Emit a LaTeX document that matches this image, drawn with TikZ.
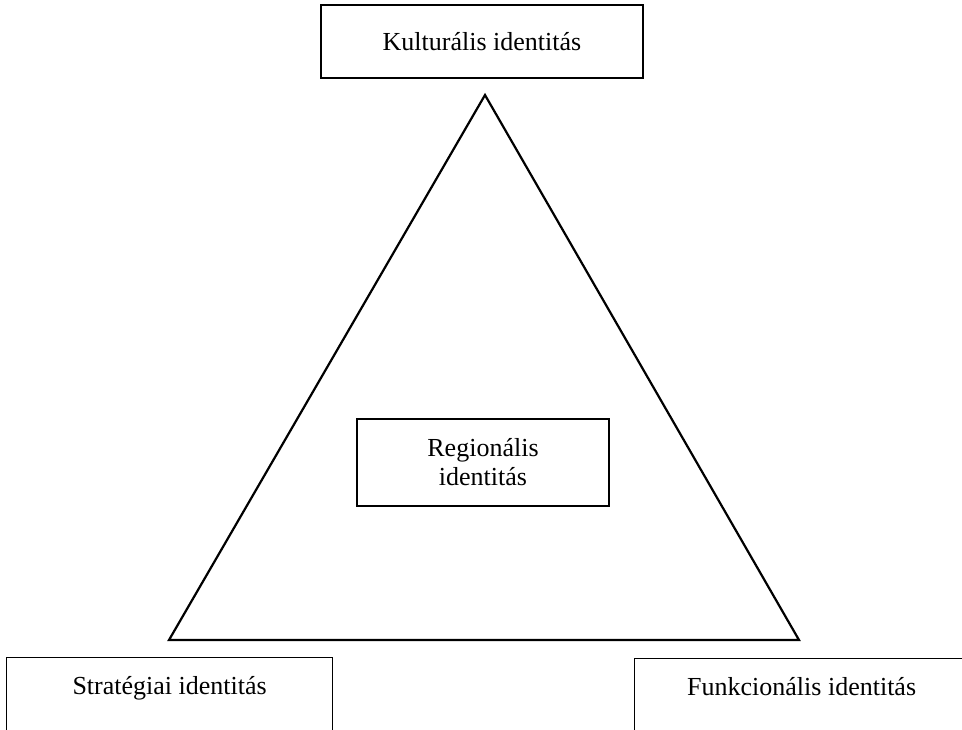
\documentclass[tikz,border=0pt]{standalone}
\usepackage{fontspec}
\setmainfont{Liberation Serif}

\begin{document}
\begin{tikzpicture}[x=1pt, y=-1pt,
  idbox/.style={draw, line width=1.3pt, inner sep=0pt, font=\fontsize{26}{29}\selectfont, align=center},
  openbox/.style={idbox, anchor=north west, text height=37pt, text depth=60pt}]

% picture frame
\useasboundingbox (0,0) rectangle (962,729);
\clip (0,0) rectangle (962,729);

% Triangle
\coordinate (top) at (485,95);
\coordinate (bl) at (169,640);
\coordinate (br) at (799,640);
\draw[line width=2.2pt, line join=miter] (top) -- (bl) -- (br) -- cycle;

% Boxes
\node[idbox, minimum width=322, minimum height=73] (kult) at (482,41.5) {Kulturális identitás};
\node[idbox, minimum width=252, minimum height=87] (reg) at (483,462.5) {Regionális\\identitás};

% Bottom boxes (cut by the frame)
\node[openbox, minimum width=326] (strat) at (6,657) {Stratégiai identitás};
\node[openbox, minimum width=334] (funk) at (634,658) {Funkcionális identitás};

\end{tikzpicture}
\end{document}
